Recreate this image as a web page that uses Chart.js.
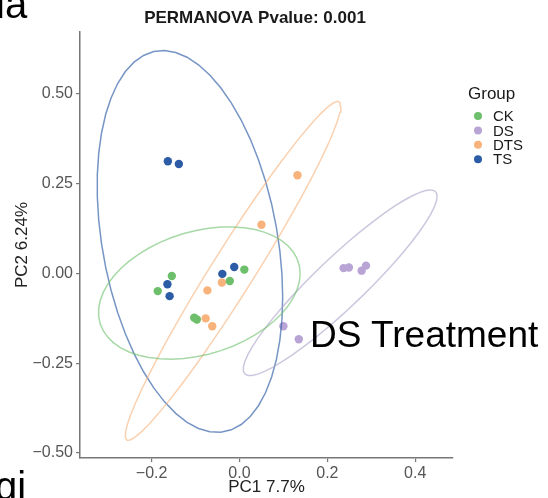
<!DOCTYPE html>
<html>
<head>
<meta charset="utf-8">
<script src="https://cdn.jsdelivr.net/npm/chart.js@4.4.1/dist/chart.umd.min.js"></script>
<style>
  body { margin: 0; background: #fff; }
  #wrap { position: relative; width: 548px; height: 498px; overflow: hidden; }
  .overlay { position: absolute; font-family: "Liberation Sans", Arial, sans-serif; color: #000; line-height: 1; white-space: nowrap; }
</style>
</head>
<body>
<div id="wrap">
  <canvas id="pcoa" width="548" height="498"></canvas>
  <div class="overlay" style="left:-4px; top:-16px; font-size:40px;">la</div>
  <div class="overlay" style="left:-5px; top:466px; font-size:40px;">gi</div>
  <div class="overlay" style="left:310px; top:316px; font-size:37px;">DS Treatment</div>
</div>
<script>
// groups and colours
const groups = ["CK", "DS", "DTS", "TS"];
const groupColors = ["#6dbf6b", "#b8a5d6", "#f7b37b", "#2c5ca6"];
const ellipseColors = ["rgba(109,191,107,0.6)", "rgba(170,160,200,0.6)", "rgba(247,179,123,0.6)", "rgba(44,92,166,0.65)"];

// PCoA scores
const ckX = [-0.154, -0.186, 0.011, -0.022, -0.103, -0.097];
const ckY = [-0.007, -0.049, 0.011, -0.021, -0.123, -0.128];
const dsX = [0.237, 0.249, 0.278, 0.288, 0.100, 0.135];
const dsY = [0.015, 0.017, 0.008, 0.022, -0.147, -0.183];
const dtsX = [0.132, 0.050, -0.040, -0.073, -0.077, -0.062];
const dtsY = [0.274, 0.136, -0.025, -0.047, -0.125, -0.147];
const tsX = [-0.163, -0.138, -0.164, -0.159, -0.039, -0.012];
const tsY = [0.313, 0.305, -0.030, -0.063, -0.001, 0.018];

const xTicks = [-0.2, 0, 0.2, 0.4];
const xTickLabels = ["\u22120.2", "0.0", "0.2", "0.4"];
const yTicks = [-0.5, -0.25, 0, 0.25, 0.5];
const yTickLabels = ["\u22120.50", "\u22120.25", "0.00", "0.25", "0.50"];

const chartTitle = "PERMANOVA Pvalue: 0.001";
const xTitle = "PC1 7.7%";
const yTitle = "PC2 6.24%";
const legendTitle = "Group";

const ellipseLevel = 0.95;

const FONT = '"Liberation Sans", Arial, Helvetica, sans-serif';
Chart.defaults.font.family = FONT;

const groupX = [ckX, dsX, dtsX, tsX];
const groupY = [ckY, dsY, dtsY, tsY];

// robust covariance like MASS::cov.trob (nu = 5)
function covTrob(xs, ys) {
  const n = xs.length, p = 2, nu = 5;
  let loc = [xs.reduce((a, b) => a + b, 0) / n, ys.reduce((a, b) => a + b, 0) / n];
  let w = new Array(n).fill(1);
  let X = [];
  for (let iter = 0; iter < 25; iter++) {
    const w0 = w.slice();
    X = xs.map((x, i) => [x - loc[0], ys[i] - loc[1]]);
    const sw = w.reduce((a, b) => a + b, 0);
    let a = 0, b = 0, c = 0;
    X.forEach((d, i) => {
      a += w[i] * d[0] * d[0] / sw;
      b += w[i] * d[0] * d[1] / sw;
      c += w[i] * d[1] * d[1] / sw;
    });
    const det = a * c - b * b;
    const Q = X.map(d => (c * d[0] * d[0] - 2 * b * d[0] * d[1] + a * d[1] * d[1]) / det);
    w = Q.map(q => (nu + p) / (nu + q));
    const sw2 = w.reduce((s, v) => s + v, 0);
    loc = [
      xs.reduce((s, x, i) => s + w[i] * x, 0) / sw2,
      ys.reduce((s, y, i) => s + w[i] * y, 0) / sw2
    ];
    if (w.every((v, i) => Math.abs(v - w0[i]) < 0.01)) break;
  }
  let a = 0, b = 0, c = 0;
  X.forEach((d, i) => {
    a += w[i] * d[0] * d[0] / n;
    b += w[i] * d[0] * d[1] / n;
    c += w[i] * d[1] * d[1] / n;
  });
  return { center: loc, cov: [a, b, c] };
}

// stat_ellipse(type = "t") outline
function ellipsePoints(xs, ys) {
  const { center, cov } = covTrob(xs, ys);
  const dfd = xs.length - 1;
  const qf = dfd / 2 * (Math.pow(1 - ellipseLevel, -2 / dfd) - 1); // F(2, dfd) quantile
  const radius = Math.sqrt(2 * qf);
  const r11 = Math.sqrt(cov[0]);
  const r12 = cov[1] / r11;
  const r22 = Math.sqrt(cov[2] - r12 * r12);
  const segments = 51;
  const out = [];
  for (let k = 0; k <= segments; k++) {
    const t = k * 2 * Math.PI / segments;
    out.push({
      x: center[0] + radius * Math.cos(t) * r11,
      y: center[1] + radius * (Math.cos(t) * r12 + Math.sin(t) * r22)
    });
  }
  return out;
}

const datasets = [];
groups.forEach((g, i) => {
  datasets.push({
    label: g + " ellipse",
    data: ellipsePoints(groupX[i], groupY[i]),
    showLine: true,
    borderColor: ellipseColors[i],
    borderWidth: 1.5,
    pointRadius: 0,
    fill: false,
    tension: 0
  });
});
groups.forEach((g, i) => {
  datasets.push({
    label: g,
    data: groupX[i].map((x, j) => ({ x: x, y: groupY[i][j] })),
    backgroundColor: groupColors[i],
    borderWidth: 0,
    pointRadius: 4.2,
    pointHoverRadius: 4.2
  });
});

// title and legend drawn beside the panel
const sideText = {
  id: "sideText",
  afterDraw(chart) {
    const ctx = chart.ctx;
    ctx.save();
    ctx.fillStyle = "#1a1a1a";
    ctx.font = "bold 17px " + FONT;
    ctx.textAlign = "center";
    ctx.textBaseline = "alphabetic";
    ctx.fillText(chartTitle, 255, 23);

    ctx.textAlign = "left";
    ctx.font = "17px " + FONT;
    ctx.fillText(legendTitle, 468, 99);
    ctx.font = "15px " + FONT;
    groups.forEach((g, i) => {
      const y = 116 + i * 14.4;
      ctx.fillStyle = groupColors[i];
      ctx.beginPath();
      ctx.arc(478, y, 4, 0, Math.PI * 2);
      ctx.fill();
      ctx.fillStyle = "#1a1a1a";
      ctx.textBaseline = "middle";
      ctx.fillText(g, 493, y + 1);
    });
    ctx.restore();
  }
};

new Chart(document.getElementById("pcoa"), {
  type: "scatter",
  data: { datasets: datasets },
  plugins: [sideText],
  options: {
    responsive: false,
    animation: false,
    layout: { padding: { top: 32, right: 95, left: 0, bottom: 0 } },
    plugins: {
      legend: { display: false },
      tooltip: { enabled: false }
    },
    scales: {
      x: {
        type: "linear",
        min: -0.363,
        max: 0.486,
        afterFit: s => { s.height = 40; },
        afterBuildTicks: s => { s.ticks = xTicks.map(v => ({ value: v })); },
        ticks: {
          color: "#555",
          font: { size: 16 },
          padding: 2,
          callback: v => xTickLabels[xTicks.indexOf(v)]
        },
        grid: { display: true, drawOnChartArea: false, drawTicks: true, tickLength: 4, color: "#777", lineWidth: 1.2 },
        border: { display: true, color: "#777", width: 1.5 },
        title: { display: true, text: xTitle, color: "#222", font: { size: 17 }, padding: { top: 0, bottom: 0 } }
      },
      y: {
        type: "linear",
        min: -0.514,
        max: 0.673,
        afterFit: s => { s.width = 80; },
        afterBuildTicks: s => { s.ticks = yTicks.map(v => ({ value: v })); },
        ticks: {
          color: "#555",
          font: { size: 16 },
          padding: 3,
          callback: v => yTickLabels[yTicks.indexOf(v)]
        },
        grid: { display: true, drawOnChartArea: false, drawTicks: true, tickLength: 4, color: "#777", lineWidth: 1.2 },
        border: { display: true, color: "#777", width: 1.5 },
        title: { display: true, text: yTitle, color: "#222", font: { size: 17 }, padding: { top: 12, bottom: 0 } }
      }
    }
  }
});
</script>
</body>
</html>
